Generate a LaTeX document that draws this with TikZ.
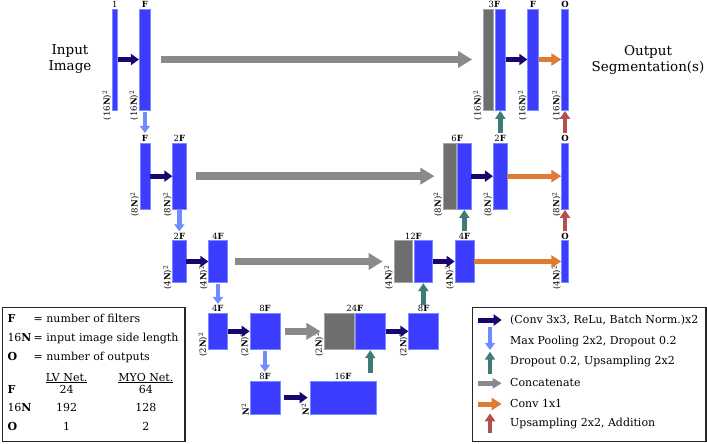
\documentclass[tikz,border=0pt]{standalone}
\usepackage{fontspec}
\setmainfont{DejaVu Serif}
\usetikzlibrary{arrows.meta,calc}
\definecolor{barblue}{RGB}{60,60,255}
\definecolor{baredge}{RGB}{120,140,255}
\definecolor{bargray}{RGB}{110,110,110}
\definecolor{grayedge}{RGB}{165,165,165}
\definecolor{convc}{RGB}{25,5,110}
\definecolor{poolc}{RGB}{110,140,255}
\definecolor{upc}{RGB}{62,122,120}
\definecolor{catc}{RGB}{138,138,138}
\definecolor{outc}{RGB}{224,123,52}
\definecolor{addc}{RGB}{178,80,80}
\tikzset{
  bbar/.style={draw=baredge, fill=barblue, line width=0.7pt, inner sep=0pt},
  gbar/.style={draw=grayedge, fill=bargray, line width=0.7pt, inner sep=0pt},
  toplab/.style={anchor=south, inner sep=1pt, font=\fontsize{8.5}{10}\selectfont},
  dimlab/.style={rotate=90, anchor=south, inner sep=0.5pt, font=\fontsize{8.5}{10}\selectfont},
  conv/.style={draw=convc, line width=5pt, -{Triangle[length=8pt,width=11pt]}},
  pool/.style={draw=poolc, line width=4.5pt, -{Triangle[length=7pt,width=10pt]}},
  upar/.style={draw=upc, line width=4.5pt, -{Triangle[length=8pt,width=10pt]}},
  cat/.style={draw=catc, line width=7.5pt, -{Triangle[length=14pt,width=16pt]}},
  catsmall/.style={draw=catc, line width=5pt, -{Triangle[length=9pt,width=10pt]}},
  outar/.style={draw=outc, line width=5pt, -{Triangle[length=10pt,width=12pt]}},
  addar/.style={draw=addc, line width=4.5pt, -{Triangle[length=8pt,width=10pt]}},
  legbox/.style={draw=black!85, line width=1.4pt, inner sep=0pt},
  bigtxt/.style={align=center, font=\fontsize{13.5}{16}\selectfont},
  legtxt/.style={inner sep=0pt, font=\fontsize{11}{13}\selectfont},
}
\newcommand\blk[6]{\node[#2, minimum width=#5, minimum height=#6] (#1) at (#3,#4) {};}
\newcommand\toplab[3]{\node[toplab] (#1) at (#2) {#3};}
\newcommand\dimlab[2]{\node[dimlab] (#1dl) at ($(#1.south west)+(0,-5)$) {#2};}
\begin{document}
\begin{tikzpicture}[x=1pt,y=-1pt]
\useasboundingbox (0,0) rectangle (707,444);
% level 1
\blk{a1}{bbar}{114.8}{59.5}{5}{101}
\blk{a2}{bbar}{144.9}{59.5}{11.2}{101}
\blk{a3g}{gbar}{488.25}{59.5}{10.5}{101}
\blk{a3}{bbar}{500.35}{59.5}{10.7}{101}
\blk{a4}{bbar}{533}{59.5}{10.6}{101}
\blk{a5}{bbar}{565}{59.5}{6.6}{101}
% level 2
\blk{b1}{bbar}{145}{176.15}{10}{65.7}
\blk{b2}{bbar}{179.35}{176.15}{13.3}{65.7}
\blk{b3g}{gbar}{450}{176.15}{13.4}{65.7}
\blk{b3}{bbar}{464.35}{176.15}{13.3}{65.7}
\blk{b4}{bbar}{500.15}{176.15}{13.7}{65.7}
\blk{b5}{bbar}{565}{176.15}{6.6}{65.7}
% level 3
\blk{c1}{bbar}{179.35}{261.5}{13.3}{41.6}
\blk{c2}{bbar}{218}{261.5}{18.6}{41.6}
\blk{c3g}{gbar}{403.35}{261.5}{18.7}{41.6}
\blk{c3}{bbar}{423.35}{261.5}{18.7}{41.6}
\blk{c4}{bbar}{464.5}{261.5}{19}{41.6}
\blk{c5}{bbar}{565}{261.5}{6.6}{41.6}
% level 4
\blk{d1}{bbar}{217.8}{331.3}{19}{36}
\blk{d2}{bbar}{265}{331.3}{30}{36}
\blk{d3g}{gbar}{339.3}{331.3}{30}{36}
\blk{d3}{bbar}{370.3}{331.3}{30}{36}
\blk{d4}{bbar}{423.7}{331.3}{30}{36}
% level 5
\blk{e1}{bbar}{265}{397.65}{30}{33.3}
\blk{e2}{bbar}{343}{397.65}{66}{33.3}
% top labels
\toplab{a1t}{a1.north}{1}
\toplab{a2t}{a2.north}{\textbf{F}}
\toplab{a3t}{$(a3g.north west)!0.5!(a3.north east)$}{3\textbf{F}}
\toplab{a4t}{a4.north}{\textbf{F}}
\toplab{a5t}{a5.north}{\textbf{O}}
\toplab{b1t}{b1.north}{\textbf{F}}
\toplab{b2t}{b2.north}{2\textbf{F}}
\toplab{b3t}{$(b3g.north west)!0.5!(b3.north east)$}{6\textbf{F}}
\toplab{b4t}{b4.north}{2\textbf{F}}
\toplab{b5t}{b5.north}{\textbf{O}}
\toplab{c1t}{c1.north}{2\textbf{F}}
\toplab{c2t}{c2.north}{4\textbf{F}}
\toplab{c3t}{$(c3g.north west)!0.5!(c3.north east)$}{12\textbf{F}}
\toplab{c4t}{c4.north}{4\textbf{F}}
\toplab{c5t}{c5.north}{\textbf{O}}
\toplab{d1t}{d1.north}{4\textbf{F}}
\toplab{d2t}{d2.north}{8\textbf{F}}
\toplab{d3t}{$(d3g.north west)!0.5!(d3.north east)$}{24\textbf{F}}
\toplab{d4t}{d4.north}{8\textbf{F}}
\toplab{e1t}{e1.north}{8\textbf{F}}
\toplab{e2t}{e2.north}{16\textbf{F}}
% dimension labels
\dimlab{a1}{(16\textbf{N})\textsuperscript{2}}
\dimlab{a2}{(16\textbf{N})\textsuperscript{2}}
\dimlab{a3g}{(16\textbf{N})\textsuperscript{2}}
\dimlab{a4}{(16\textbf{N})\textsuperscript{2}}
\dimlab{a5}{(16\textbf{N})\textsuperscript{2}}
\dimlab{b1}{(8\textbf{N})\textsuperscript{2}}
\dimlab{b2}{(8\textbf{N})\textsuperscript{2}}
\dimlab{b3g}{(8\textbf{N})\textsuperscript{2}}
\dimlab{b4}{(8\textbf{N})\textsuperscript{2}}
\dimlab{b5}{(8\textbf{N})\textsuperscript{2}}
\dimlab{c1}{(4\textbf{N})\textsuperscript{2}}
\dimlab{c2}{(4\textbf{N})\textsuperscript{2}}
\dimlab{c3g}{(4\textbf{N})\textsuperscript{2}}
\dimlab{c4}{(4\textbf{N})\textsuperscript{2}}
\dimlab{c5}{(4\textbf{N})\textsuperscript{2}}
\dimlab{d1}{(2\textbf{N})\textsuperscript{2}}
\dimlab{d2}{(2\textbf{N})\textsuperscript{2}}
\dimlab{d3g}{(2\textbf{N})\textsuperscript{2}}
\dimlab{d4}{(2\textbf{N})\textsuperscript{2}}
\dimlab{e1}{\textbf{N}\textsuperscript{2}}
\dimlab{e2}{\textbf{N}\textsuperscript{2}}
% horizontal connectors
\draw[conv] (a1) -- (a2);
\draw[cat, shorten <=10pt, shorten >=10.5pt] (a2) -- (a3g);
\draw[conv] (a3) -- (a4);
\draw[outar] (a4) -- (a5);
\draw[conv] (b1) -- (b2);
\draw[cat, shorten <=9.5pt, shorten >=8.5pt] (b2) -- (b3g);
\draw[conv] (b3) -- (b4);
\draw[outar] (b4) -- (b5);
\draw[conv] (c1) -- (c2);
\draw[cat, shorten <=7pt, shorten >=11pt] (c2) -- (c3g);
\draw[conv] (c3) -- (c4);
\draw[outar] (c4) -- (c5);
\draw[conv] (d1) -- (d2);
\draw[cat, shorten <=5pt, shorten >=3.5pt] (d2) -- (d3g);
\draw[conv] (d3) -- (d4);
\draw[conv, shorten <=4pt, shorten >=2pt] (e1) -- (e2);
% pooling
\draw[pool, shorten <=1.5pt, shorten >=10pt] (a2.south) -- (a2.south |- b1.north);
\draw[pool, shorten <=1pt, shorten >=9pt] (b2.south) -- (b2.south |- c1.north);
\draw[pool, shorten <=1pt, shorten >=9pt] (c2.south) -- (c2.south |- d1.north);
\draw[pool, shorten <=1.5pt, shorten >=9pt] (d2.south) -- (d2.south |- e1.north);
% upsampling
\draw[upar, shorten <=10pt, shorten >=0.5pt] (a3.south |- b4.north) -- (a3.south);
\draw[upar, shorten <=9pt, shorten >=0.5pt] (b3.south |- c4.north) -- (b3.south);
\draw[upar, shorten <=8pt, shorten >=0.5pt] (c3.south |- d4.north) -- (c3.south);
\draw[upar, shorten <=8pt, shorten >=0.5pt] (d3.south |- e2.north) -- (d3.south);
% addition
\draw[addar, shorten <=10pt, shorten >=0.5pt] (b5.north) -- (a5.south);
\draw[addar, shorten <=9pt, shorten >=0.5pt] (c5.north) -- (b5.south);
% big texts
\node[bigtxt] (inimg) at (70,59.5) {Input\\Image};
\node[bigtxt] (outseg) at (648,59.5) {Output\\Segmentation(s)};
% left legend
\node[legbox, minimum width=182.3, minimum height=134.4] (lbox) at (93.85,374.5) {};
\node[legtxt, anchor=base west] (l1a) at (7.3,322.3) {\textbf{F}};
\node[legtxt, anchor=base west] (l1b) at (33.5,322.3) {= number of filters};
\node[legtxt, anchor=base west] (l2a) at (7.3,341.3) {16\textbf{N}};
\node[legtxt, anchor=base west] (l2b) at (33.5,341.3) {= input image side length};
\node[legtxt, anchor=base west] (l3a) at (7.3,360) {\textbf{O}};
\node[legtxt, anchor=base west] (l3b) at (33.5,360) {= number of outputs};
\node[legtxt, anchor=base] (h1) at (66.7,381) {\underline{LV Net.}};
\node[legtxt, anchor=base] (h2) at (145.8,381) {\underline{MYO Net.}};
\node[legtxt, anchor=base west] (r1a) at (7.3,393.3) {\textbf{F}};
\node[legtxt, anchor=base] (r1b) at (66.7,393.3) {24};
\node[legtxt, anchor=base] (r1c) at (145.8,393.3) {64};
\node[legtxt, anchor=base west] (r2a) at (7.3,411.7) {16\textbf{N}};
\node[legtxt, anchor=base] (r2b) at (66.7,411.7) {192};
\node[legtxt, anchor=base] (r2c) at (145.8,411.7) {128};
\node[legtxt, anchor=base west] (r3a) at (7.3,430.7) {\textbf{O}};
\node[legtxt, anchor=base] (r3b) at (66.7,430.7) {1};
\node[legtxt, anchor=base] (r3c) at (145.8,430.7) {2};
% right legend
\node[legbox, minimum width=233.7, minimum height=134.4] (rbox) at (589.15,374.5) {};
\coordinate (k1a) at (478,320); \coordinate (k1b) at (501.7,320);
\coordinate (k2a) at (490,326.7); \coordinate (k2b) at (490,350);
\coordinate (k3a) at (490,374.3); \coordinate (k3b) at (490,351.7);
\coordinate (k4a) at (478,383.3); \coordinate (k4b) at (501.7,383.3);
\coordinate (k5a) at (478,404); \coordinate (k5b) at (501.7,404);
\coordinate (k6a) at (490,433.3); \coordinate (k6b) at (490,413.3);
\draw[conv] (k1a) -- (k1b);
\draw[pool] (k2a) -- (k2b);
\draw[upar] (k3a) -- (k3b);
\draw[catsmall] (k4a) -- (k4b);
\draw[outar] (k5a) -- (k5b);
\draw[addar] (k6a) -- (k6b);
\node[legtxt, anchor=base west] (t1) at (510,323.3) {(Conv 3x3, ReLu, Batch Norm.)x2};
\node[legtxt, anchor=base west] (t2) at (510,344) {Max Pooling 2x2, Dropout 0.2};
\node[legtxt, anchor=base west] (t3) at (510,364.3) {Dropout 0.2, Upsampling 2x2};
\node[legtxt, anchor=base west] (t4) at (510,386.7) {Concatenate};
\node[legtxt, anchor=base west] (t5) at (510,407.3) {Conv 1x1};
\node[legtxt, anchor=base west] (t6) at (510,426.7) {Upsampling 2x2, Addition};
\end{tikzpicture}
\end{document}
